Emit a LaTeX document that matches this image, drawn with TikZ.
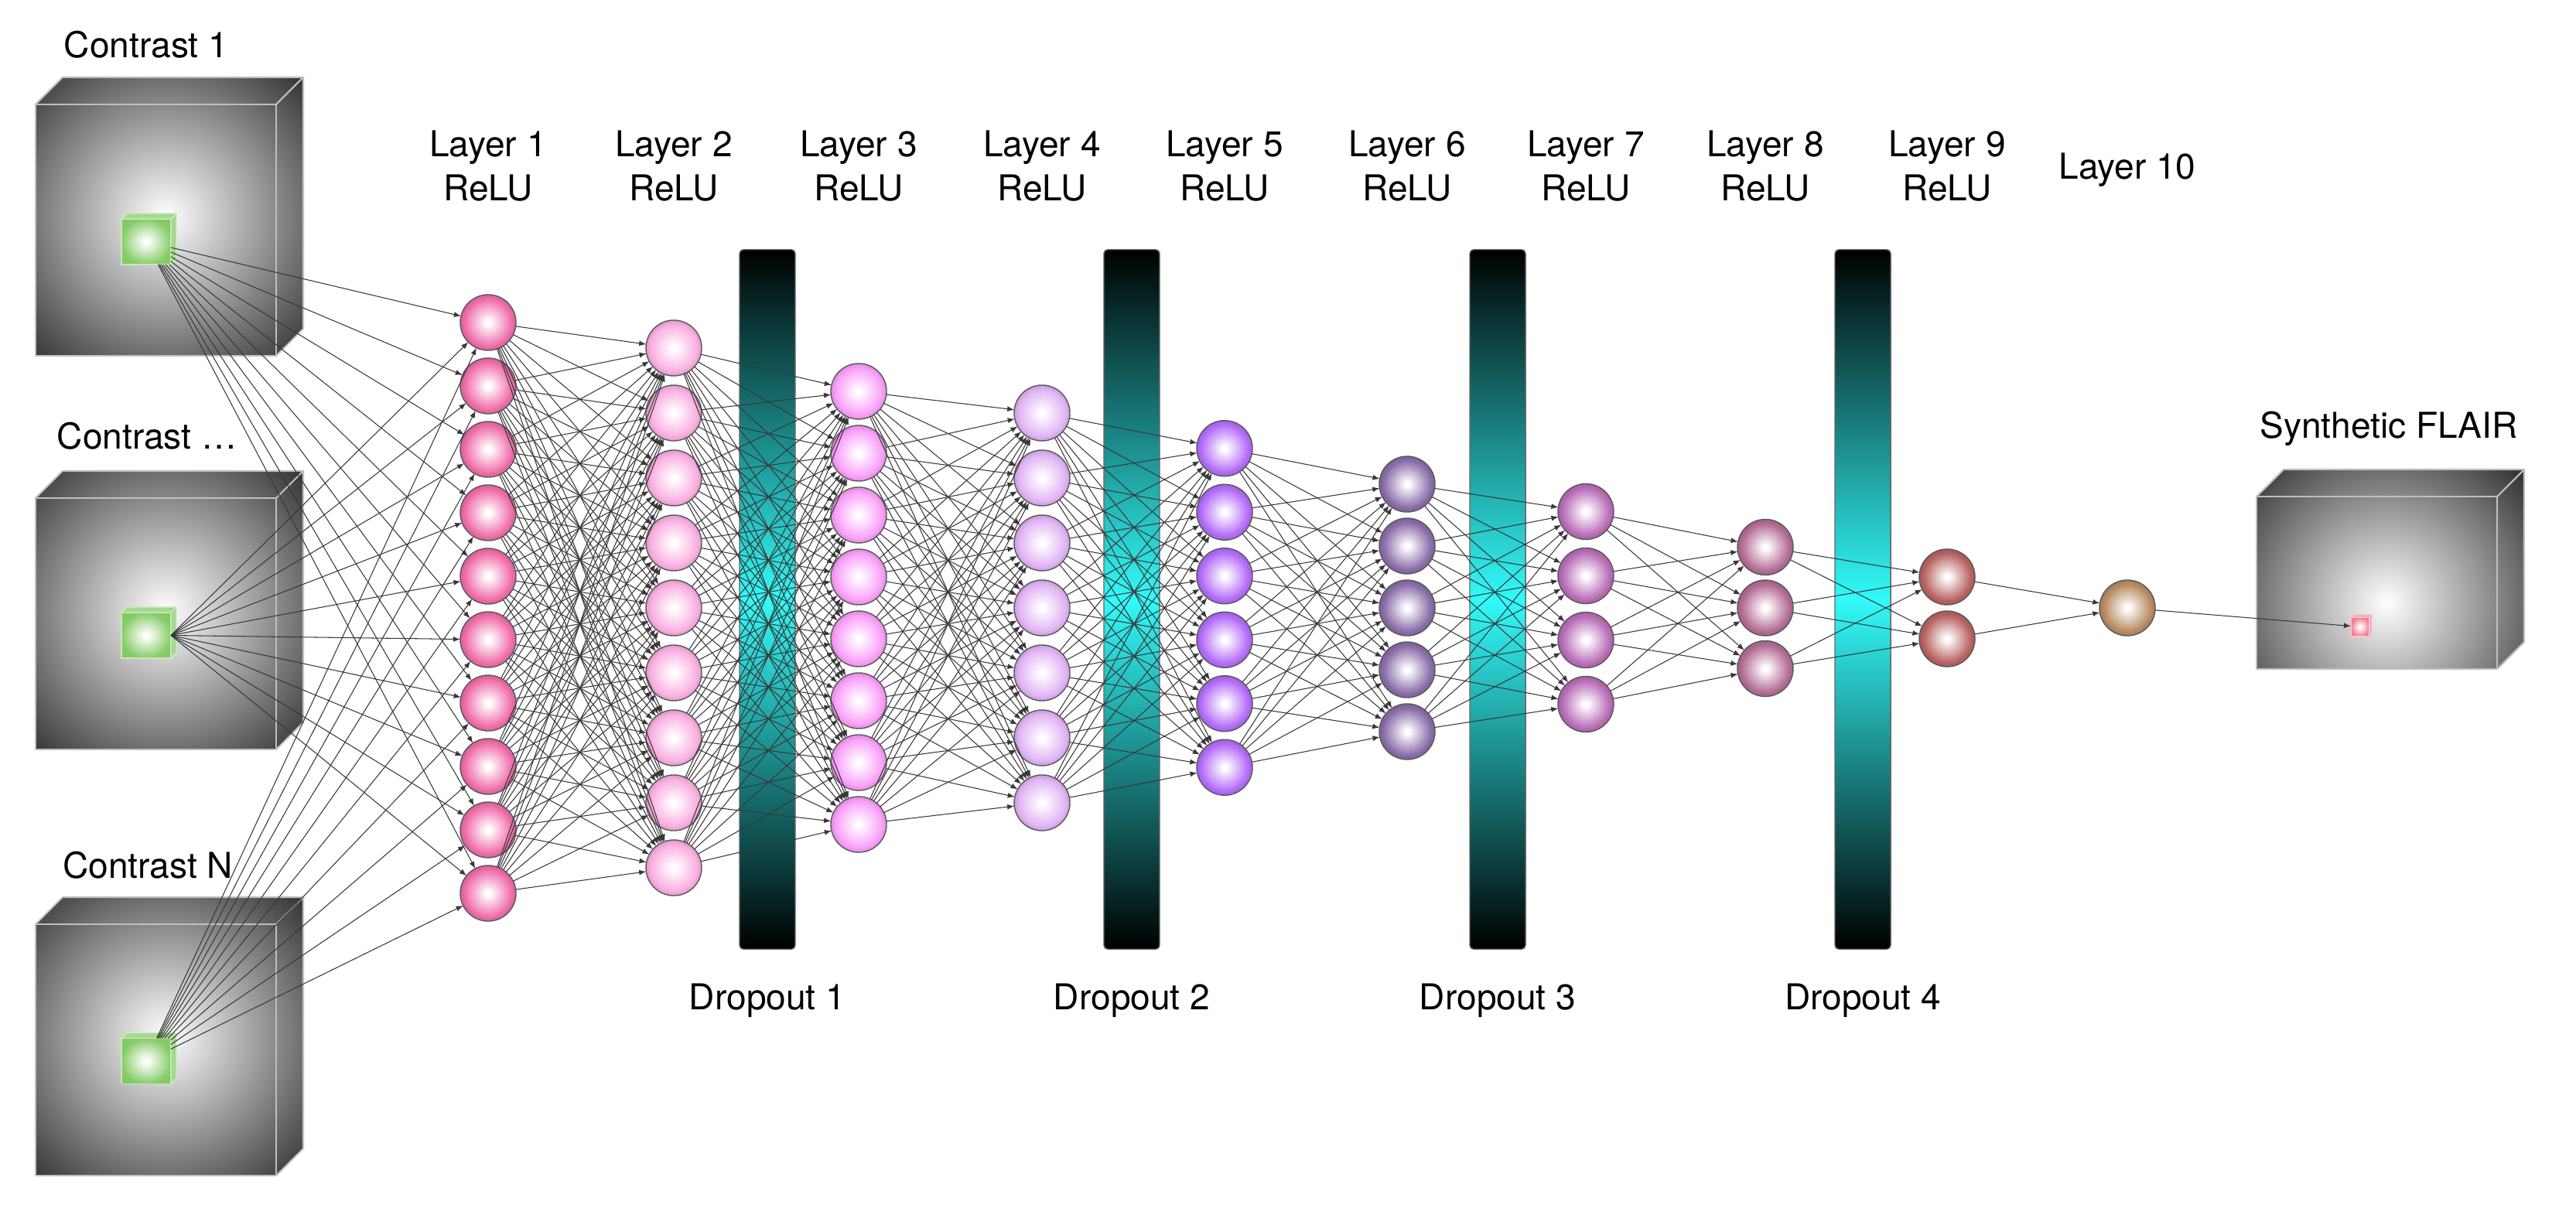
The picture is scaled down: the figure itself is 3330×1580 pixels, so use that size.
\documentclass[tikz,border=0pt]{standalone}
\usepackage{fontspec}
\setmainfont{TeX Gyre Heros}
\usetikzlibrary{arrows.meta}
\definecolor{c1}{HTML}{F06EAA}
\definecolor{c2}{HTML}{FAAFE1}
\definecolor{c3}{HTML}{FAA0FA}
\definecolor{c4}{HTML}{E1B4F5}
\definecolor{c5}{HTML}{B46EFA}
\definecolor{c6}{HTML}{8C6EAA}
\definecolor{c7}{HTML}{B96EB9}
\definecolor{c8}{HTML}{B46E96}
\definecolor{c9}{HTML}{B96464}
\definecolor{c10}{HTML}{B98C64}
\definecolor{cubedark}{RGB}{45,45,45}
\definecolor{cyanb}{HTML}{33FAFA}
\definecolor{greenc}{HTML}{86CC68}
\definecolor{pinkc}{HTML}{F07E8E}
\colorlet{nodecol}{red}
\pgfdeclareradialshading[nodecol]{ballshade}{\pgfpointorigin}{color(0bp)=(white); color(2bp)=(white); color(21bp)=(nodecol); color(25bp)=(nodecol!88!black); color(50bp)=(nodecol!88!black)}
\pgfdeclareradialshading[nodecol]{boxshade}{\pgfpointorigin}{color(0bp)=(white); color(2bp)=(white); color(25bp)=(nodecol); color(50bp)=(nodecol!92!black)}
\pgfdeclareradialshading[cubedark]{cubeshade}{\pgfpointorigin}{color(0bp)=(white); color(24bp)=(cubedark); color(50bp)=(cubedark)}
\tikzset{
  bcol/.code={\colorlet{nodecol}{#1}},
  neuron/.style={circle, draw=black!65, line width=0.4pt, minimum size=0.72cm, inner sep=0pt, outer sep=0pt, shading=ballshade},
  conn/.style={draw=black!78, line width=0.3pt, -{Latex[length=2.6pt,width=2pt]}},
  lbl/.style={font=\fontsize{13.1pt}{15.7pt}\selectfont, anchor=base, inner sep=0pt},
  dropbar/.style={minimum width=0.72cm, minimum height=9.04cm, rounded corners=0.05cm, draw=black!60, line width=0.4pt, top color=black, bottom color=black, middle color=cyanb, inner sep=0pt, outer sep=0pt},
  cubeedge/.style={draw=black!25, line width=0.6pt},
  smallcube/.style={rectangle, inner sep=0pt, outer sep=0pt, shading=boxshade, draw=#1!45!white, line width=0.4pt, bcol=#1},
  sideface/.style={fill=#1!75!white, draw=#1!40!white, line width=0.4pt},
}
\newcommand\graycube[8]{%
  \begin{scope}
    \clip (#1,#2) -- ++(#5,-#5) -- ++(#3,0) -- ++(0,#4) -- ++(-#5,#5) -- ++(-#3,0) -- cycle;
    \shade[shading=cubeshade] (#6,#7) circle (#8);
  \end{scope}
  \draw[cubeedge] (#1,#2) rectangle ++(#3,#4);
  \draw[cubeedge] (#1,#2) -- ++(#5,-#5) -- ++(#3,0) -- ++(0,#4) -- ++(-#5,#5);
  \draw[cubeedge] (#1+#3,#2) -- ++(#5,-#5);
}
\begin{document}
\begin{tikzpicture}[x=0.01cm, y=-0.01cm]
\useasboundingbox (0,0) rectangle (3330,1580);

% big cubes
\graycube{46}{135}{311}{325}{35}{214}{280}{2.7cm}
\graycube{46}{644}{311}{325}{35}{214}{790}{2.7cm}
\graycube{46}{1195}{311}{325}{35}{214}{1340}{2.7cm}
\graycube{2917}{642}{311}{223}{35}{3085}{780}{2.6cm}

% dropout bars
\node[dropbar] (d1) at (992,775) {};
\node[dropbar] (d2) at (1463,775) {};
\node[dropbar] (d3) at (1936,775) {};
\node[dropbar] (d4) at (2408,775) {};

% small green cubes
\foreach \k/\cy in {1/312.5, 2/821.5, 3/1372} {
  \node[smallcube=greenc, minimum width=0.64cm, minimum height=0.59cm] (g\k) at (189,\cy) {};
  \path[sideface=greenc] (g\k.north west) -- ++(7,-7) -- ++(64,0) -- ++(0,59) -- (g\k.south east) -- (g\k.north east) -- cycle;
  \draw[draw=greenc!40!white, line width=0.4pt] (g\k.north east) -- ++(7,-7);
}
% small pink cube
\node[smallcube=pinkc, minimum width=0.24cm, minimum height=0.25cm] (p) at (3051,810.5) {};
\path[sideface=pinkc] (p.north west) -- ++(3,-3) -- ++(24,0) -- ++(0,25) -- (p.south east) -- (p.north east) -- cycle;

% neurons
\foreach \l/\n/\x/\s in {1/10/631/82, 2/9/871/84, 3/8/1110/80, 4/7/1347/84, 5/6/1583/82.5, 6/5/1819/80, 7/4/2050/83, 8/3/2282/78.5, 9/2/2517/80, 10/1/2750/0} {
  \foreach \i in {1,...,\n} {
    \node[neuron, bcol=c\l] (n\l-\i) at (\x, {786 + (\i - (\n+1)/2)*\s}) {};
  }
}

% connections from inputs
\foreach \i in {1,...,10} {
  \draw[conn] (g1) -- (n1-\i);
  \draw[conn] (g2.east) -- (n1-\i);
  \draw[conn] (g3) -- (n1-\i);
}
% fully connected layers
\foreach \l/\m/\na/\nb in {1/2/10/9, 2/3/9/8, 3/4/8/7, 4/5/7/6, 5/6/6/5, 6/7/5/4, 7/8/4/3, 8/9/3/2, 9/10/2/1} {
  \foreach \i in {1,...,\na} {
    \foreach \j in {1,...,\nb} {
      \draw[conn] (n\l-\i) -- (n\m-\j);
    }
  }
}
\draw[conn] (n10-1) -- (p);

% labels
\node[lbl] (t1) at (189,75) {Contrast 1};
\node[lbl] (t2) at (190,581) {Contrast …};
\node[lbl] (t3) at (191,1136) {Contrast N};
\node[lbl] (tout) at (3088,567) {Synthetic FLAIR};
\foreach \l/\x in {1/631, 2/871, 3/1110, 4/1347, 5/1583, 6/1819, 7/2050, 8/2282, 9/2517} {
  \node[lbl] (lay\l) at (\x,203) {Layer \l};
  \node[lbl] (relu\l) at (\x,260) {ReLU};
}
\node[lbl] (lay10) at (2750,232) {Layer 10};
\node[lbl] (do1) at (992,1305) {Dropout 1};
\node[lbl] (do2) at (1463,1305) {Dropout 2};
\node[lbl] (do3) at (1936,1305) {Dropout 3};
\node[lbl] (do4) at (2408,1305) {Dropout 4};
\end{tikzpicture}
\end{document}
